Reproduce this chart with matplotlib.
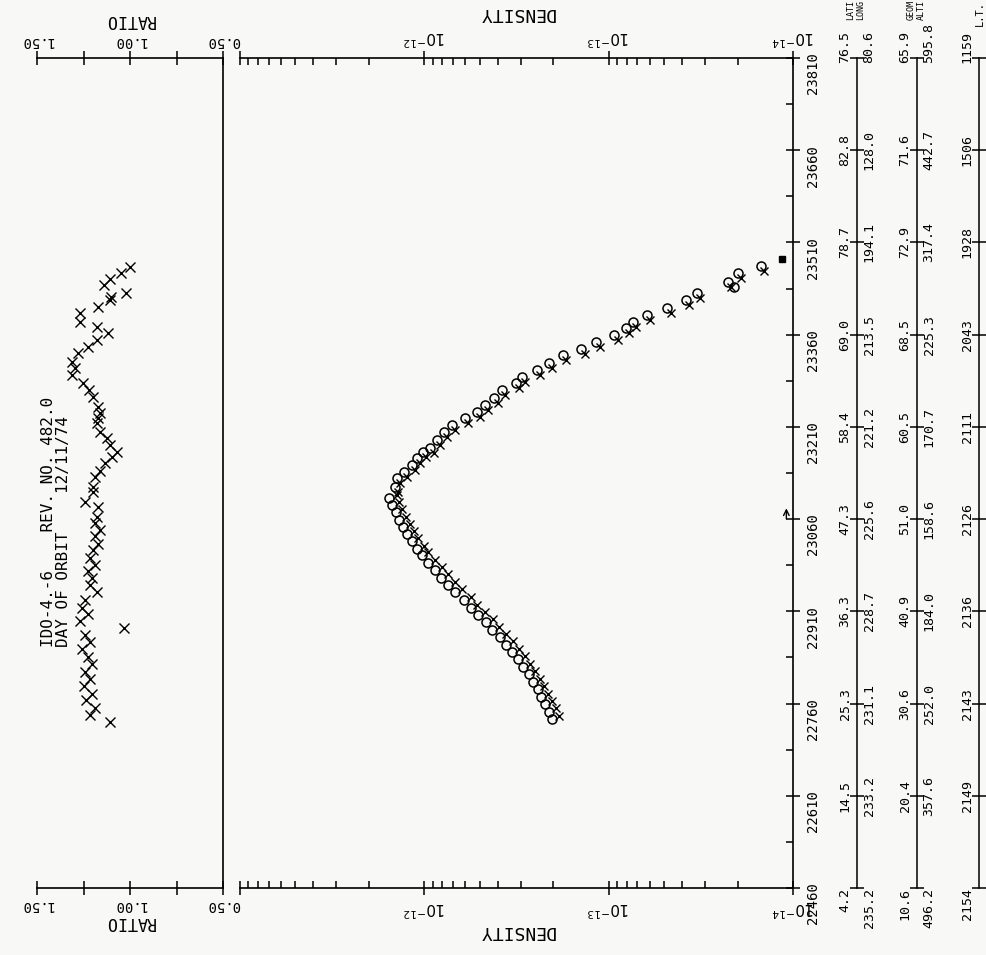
import matplotlib
matplotlib.use("Agg")
import matplotlib.pyplot as plt
from matplotlib.ticker import FixedLocator, NullFormatter, LogLocator, FixedFormatter

plt.rcParams["font.family"] = ["DejaVu Sans Mono", "DejaVu Sans"]
plt.rcParams["mathtext.fontset"] = "dejavusans"

# ---- data ----
# circles (measured density), time in s
circ_t = [22735, 22747, 22759, 22771, 22783, 22795, 22808, 22820, 22832, 22844,
          22856, 22868, 22880, 22892, 22904, 22916, 22928, 22941, 22953, 22965,
          22977, 22989, 23001, 23012, 23024, 23036, 23047, 23059, 23071, 23083,
          23094,
          23112, 23127, 23137, 23148, 23159, 23169, 23176, 23189, 23202, 23213,
          23224, 23234, 23246, 23257, 23270, 23281, 23291, 23303, 23314, 23327,
          23337, 23348, 23359, 23371, 23381, 23392, 23403, 23416, 23428, 23438,
          23446, 23460, 23472]
circ_d = [2.02e-13, 2.11e-13, 2.21e-13, 2.32e-13, 2.43e-13, 2.57e-13, 2.72e-13, 2.9e-13, 3.1e-13, 3.35e-13,
          3.6e-13, 3.9e-13, 4.3e-13, 4.6e-13, 5.1e-13, 5.6e-13, 6.1e-13, 6.8e-13, 7.4e-13, 8.1e-13,
          8.7e-13, 9.5e-13, 1.03e-12, 1.10e-12, 1.17e-12, 1.24e-12, 1.30e-12, 1.37e-12, 1.43e-12, 1.49e-12,
          1.55e-12,
          1.45e-12, 1.41e-12, 1.29e-12, 1.17e-12, 1.10e-12, 1.02e-12, 9.3e-13, 8.5e-13, 7.8e-13, 7.1e-13,
          6.0e-13, 5.2e-13, 4.7e-13, 4.2e-13, 3.8e-13, 3.2e-13, 2.95e-13, 2.45e-13, 2.1e-13, 1.78e-13,
          1.41e-13, 1.17e-13, 9.3e-14, 8.1e-14, 7.4e-14, 6.2e-14, 4.8e-14, 3.8e-14, 3.3e-14, 2.1e-14,
          2.25e-14, 2.0e-14, 1.5e-14]

# crosses (model density)
cross_t = [22740, 22752, 22764, 22776, 22788, 22800, 22813, 22825, 22837, 22849,
           22861, 22873, 22885, 22897, 22909, 22921, 22933, 22946, 22958, 22970,
           22982, 22994, 23006, 23017, 23029, 23041, 23052, 23064, 23076, 23088,
           23099,
           23104, 23119, 23129, 23140, 23151, 23161, 23168, 23181, 23194, 23205,
           23216, 23226, 23238, 23249, 23262, 23273, 23283, 23295, 23306, 23319,
           23329, 23340, 23351, 23363, 23373, 23384, 23395, 23408, 23420, 23438,
           23452, 23464]
cross_d = [1.86e-13, 1.94e-13, 2.03e-13, 2.13e-13, 2.24e-13, 2.36e-13, 2.5e-13, 2.67e-13, 2.85e-13, 3.08e-13,
           3.3e-13, 3.6e-13, 3.95e-13, 4.25e-13, 4.7e-13, 5.15e-13, 5.6e-13, 6.25e-13, 6.8e-13, 7.45e-13,
           8.0e-13, 8.7e-13, 9.5e-13, 1.01e-12, 1.08e-12, 1.14e-12, 1.20e-12, 1.26e-12, 1.32e-12, 1.37e-12,
           1.40e-12,
           1.39e-12, 1.35e-12, 1.24e-12, 1.12e-12, 1.06e-12, 9.8e-13, 8.9e-13, 8.2e-13, 7.5e-13, 6.8e-13,
           5.8e-13, 5.0e-13, 4.5e-13, 4.0e-13, 3.65e-13, 3.07e-13, 2.83e-13, 2.35e-13, 2.02e-13, 1.71e-13,
           1.35e-13, 1.12e-13, 8.9e-14, 7.8e-14, 7.1e-14, 6.0e-14, 4.6e-14, 3.65e-14, 3.2e-14, 2.16e-14,
           1.92e-14, 1.44e-14]

ref_t = [23483]
ref_d = [1.15e-14]
perigee_t = 23060

# ratio panel
ratio_t = [22730, 22741, 22753, 22765, 22776, 22788, 22800, 22812, 22824, 22835,
           22848, 22860, 22872, 22883, 22894, 22905, 22915, 22929, 22941, 22953,
           22964, 22975, 22985, 22997, 23009, 23020, 23032, 23042, 23054, 23064,
           23079, 23088,
           23104, 23112, 23128, 23138, 23151, 23161, 23169, 23181, 23192, 23202,
           23216, 23224, 23233, 23242, 23259, 23270, 23281, 23294, 23306, 23316,
           23330, 23340, 23351, 23363, 23372, 23381, 23395, 23405, 23416, 23422,
           23428, 23440, 23450, 23460, 23470]
ratio_v = [1.11, 1.215, 1.19, 1.235, 1.205, 1.245, 1.215, 1.24, 1.205, 1.225,
           1.26, 1.215, 1.24, 1.03, 1.27, 1.225, 1.26, 1.24, 1.18, 1.215,
           1.205, 1.225, 1.19, 1.215, 1.20, 1.17, 1.19, 1.16, 1.19, 1.18,
           1.17, 1.24,
           1.20, 1.199, 1.188, 1.16, 1.134, 1.097, 1.070, 1.108, 1.124, 1.161,
           1.177, 1.17, 1.161, 1.172, 1.199, 1.22, 1.253, 1.312, 1.296, 1.312,
           1.280, 1.226, 1.177, 1.118, 1.177, 1.269, 1.269, 1.172, 1.108, 1.10,
           1.02, 1.14, 1.11, 1.05, 1.00]

# orbit table on the right
tick_t = [22460, 22610, 22760, 22910, 23060, 23210, 23360, 23510, 23660, 23810]
lati = ["4.2", "14.5", "25.3", "36.3", "47.3", "58.4", "69.0", "78.7", "82.8", "76.5"]
long_ = ["235.2", "233.2", "231.1", "228.7", "225.6", "221.2", "213.5", "194.1", "128.0", "80.6"]
geom = ["10.6", "20.4", "30.6", "40.9", "51.0", "60.5", "68.5", "72.9", "71.6", "65.9"]
alti = ["496.2", "357.6", "252.0", "184.0", "158.6", "170.7", "225.3", "317.4", "442.7", "595.8"]
lt = ["2154", "2149", "2143", "2136", "2126", "2111", "2043", "1928", "1506", "1159"]

W, H = 986, 955
TOP, BOT = 58, 888


def box(x0, x1, y0=TOP, y1=BOT):
    return [x0 / W, 1 - y1 / H, (x1 - x0) / W, (y1 - y0) / H]


fig = plt.figure(figsize=(W / 100, H / 100), dpi=100, facecolor="#f8f8f6")

# ---- main density panel ----
ax = fig.add_axes(box(240, 793))
ax.patch.set_visible(False)
ax.set_xscale("log")
ax.set_xlim(1e-11, 1e-14)
ax.set_ylim(tick_t[0], tick_t[-1])
ax.plot(circ_d, circ_t, "o", mfc="none", mec="black", ms=6.5, mew=1.1)
ax.plot(cross_d, cross_t, "x", color="black", ms=6, mew=1.0)
ax.plot(ref_d, ref_t, "s", color="black", ms=4)
ax.annotate("", xy=(0.988, perigee_t + 22), xycoords=("axes fraction", "data"),
            xytext=(0.988, perigee_t - 4), textcoords=("axes fraction", "data"),
            arrowprops=dict(arrowstyle="->", lw=1.0, color="black"))
ax.spines["left"].set_visible(False)
for s in ["top", "bottom", "right"]:
    ax.spines[s].set_linewidth(1.2)
ax.xaxis.set_major_locator(FixedLocator([1e-14, 1e-13, 1e-12, 1e-11]))
ax.xaxis.set_major_formatter(FixedFormatter([r"$10^{-14}$", r"$10^{-13}$", r"$10^{-12}$", ""]))
ax.xaxis.set_minor_locator(LogLocator(base=10, subs=range(2, 10)))
ax.xaxis.set_minor_formatter(NullFormatter())
ax.tick_params(axis="x", which="both", top=True, bottom=True, labeltop=True, labelbottom=True,
               labelrotation=180, labelsize=11, width=1.1)
ax.tick_params(axis="x", which="major", direction="inout", length=10, pad=3)
ax.tick_params(axis="x", which="minor", direction="in", length=5)
ax.yaxis.tick_right()
ax.yaxis.set_major_locator(FixedLocator(tick_t))
ax.yaxis.set_minor_locator(FixedLocator([t + 75 for t in tick_t[:-1]]))
ax.tick_params(axis="y", which="major", direction="inout", length=10, width=1.1,
               labelrotation=90, labelsize=10, pad=4)
ax.tick_params(axis="y", which="minor", direction="in", length=5, width=1.1)
ax.set_xlabel("DENSITY", fontsize=13, rotation=180, labelpad=3)
fig.text((240 + 793) / 2 / W, 1 - 13 / H, "DENSITY", fontsize=13, rotation=180,
         ha="center", va="center")

# ---- ratio panel ----
rx = fig.add_axes(box(37, 223))
rx.patch.set_visible(False)
rx.set_xlim(1.5, 0.5)
rx.set_ylim(tick_t[0], tick_t[-1])
rx.plot(ratio_v, ratio_t, "x", color="black", ms=7, mew=1.0)
rx.spines["left"].set_visible(False)
for s in ["top", "bottom", "right"]:
    rx.spines[s].set_linewidth(1.2)
rx.set_xticks([0.5, 1.0, 1.5], ["0.50", "1.00", "1.50"])
rx.xaxis.set_minor_locator(FixedLocator([0.75, 1.25]))
rx.set_yticks([])
rx.tick_params(axis="x", which="both", top=True, bottom=True, labeltop=True, labelbottom=True,
               direction="inout", length=10, width=1.1, labelrotation=180, labelsize=10, pad=2)
rx.set_xlabel("RATIO", fontsize=12, rotation=180, labelpad=1)
fig.text(130 / W, 1 - 20 / H, "RATIO", fontsize=12, rotation=180, ha="center", va="center")

rx.text(0.06, 0.29, "IDO-4.-6    REV. NO. 482.0", transform=rx.transAxes, rotation=90,
        fontsize=11.5, ha="center", va="bottom")
rx.text(0.14, 0.29, "DAY OF ORBIT    12/11/74", transform=rx.transAxes, rotation=90,
        fontsize=11.5, ha="center", va="bottom")


# ---- orbit table columns ----
def column(xline, left_vals, right_vals, left_head, right_head):
    cx = fig.add_axes(box(xline, xline + 2))
    cx.patch.set_visible(False)
    cx.set_ylim(tick_t[0], tick_t[-1])
    for s in ["top", "bottom", "right"]:
        cx.spines[s].set_visible(False)
    cx.spines["left"].set_linewidth(1.1)
    cx.set_xticks([])
    cx.set_yticks(tick_t)
    cx.tick_params(axis="y", direction="inout", length=10, width=1.1, labelleft=False)
    n = len(tick_t)
    for i, t in enumerate(tick_t):
        if i == n - 1:
            va, dy = "bottom", -5
        elif i == 0:
            va, dy = "top", 0
        else:
            va, dy = "center", 0
        for vals, dx in [(left_vals, -12), (right_vals, 12)]:
            if vals is None:
                continue
            cx.annotate(vals[i], xy=(0, t), xycoords=("axes fraction", "data"),
                        xytext=(dx, dy), textcoords="offset pixels", rotation=90,
                        fontsize=9.5, ha="center", va=va)
    for head, dx in [(left_head, -6), (right_head, 4)]:
        if head:
            cx.annotate(head, xy=(0, 1), xycoords="axes fraction", xytext=(dx, 38),
                        textcoords="offset pixels", rotation=90, fontsize=6,
                        ha="center", va="bottom")
    return cx


column(857, lati, long_, "LATI", "LONG")
column(917, geom, alti, "GEOM", "ALTI")
column(979, lt, None, None, None)
fig.text(980 / W, 1 - 13 / H, "L.T.", fontsize=7.5, rotation=90, ha="center", va="center")

fig.savefig("out.png", dpi=100, facecolor=fig.get_facecolor())
